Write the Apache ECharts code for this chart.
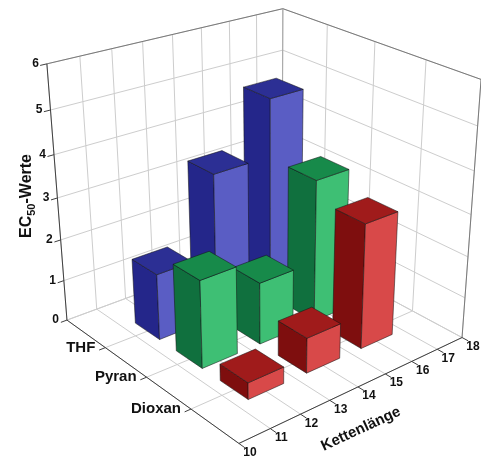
<!DOCTYPE html>
<html>
<head>
<meta charset="utf-8">
<script src="https://cdn.jsdelivr.net/npm/echarts@6/dist/echarts.min.js"></script>
<style>
  html, body { margin: 0; padding: 0; background: #ffffff; }
  #chart { width: 481px; height: 461px; }
</style>
</head>
<body>
<div id="chart"></div>
<script>
// ---- data ----
const chainTicks = [10, 11, 12, 13, 14, 15, 16, 17, 18];
const valueTicks = [0, 1, 2, 3, 4, 5, 6];
const solvents = ['THF', 'Pyran', 'Dioxan'];
const chainLengths = [12, 14, 16];
const thfValues = [1.6, 3.5, 4.85];
const pyranValues = [2.1, 1.5, 3.45];
const dioxanValues = [0.4, 0.85, 3.0];

// ---- axis ranges of the 3D box ----
const chainRange = [10, 18];
const valueRange = [0, 6];
const depthRange = [0, 4];           // solvents sit at depth 1, 2, 3

// ---- perspective camera ----
const DEG = Math.PI / 180;
const camera = { pitch: 26.54, yaw: 48.0, roll: 1.14, focal: 1340, cx: 324.5, cy: 243 };
// camera-space position of the far floor corner (chain 10, behind THF), in box-width units
const boxCorner = [-0.9145, -0.2937, 4.7877];
const boxSize = { chain: 1, depth: 0.991, value: 0.9595 };

const sp = Math.sin(camera.pitch * DEG), cp = Math.cos(camera.pitch * DEG);
const syw = Math.sin(camera.yaw * DEG), cyw = Math.cos(camera.yaw * DEG);
const dirChain = [syw, cyw * sp, cyw * cp];
const dirDepth = [cyw, -syw * sp, -syw * cp];
const dirValue = [0, cp, -sp];
const sr = Math.sin(camera.roll * DEG), cr = Math.cos(camera.roll * DEG);

function toCamera(chain, value, depth) {
  const a = (chain - chainRange[0]) / (chainRange[1] - chainRange[0]) * boxSize.chain;
  const b = (value - valueRange[0]) / (valueRange[1] - valueRange[0]) * boxSize.value;
  const c = (depth - depthRange[0]) / (depthRange[1] - depthRange[0]) * boxSize.depth;
  return [0, 1, 2].map(i => boxCorner[i] + a * dirChain[i] + b * dirValue[i] + c * dirDepth[i]);
}
function project(chain, value, depth) {
  const p = toCamera(chain, value, depth);
  const u = camera.focal * p[0] / p[2];
  const v = -camera.focal * p[1] / p[2];
  return [camera.cx + u * cr - v * sr, camera.cy + u * sr + v * cr];
}

// ---- frame: walls, grid, axes, labels ----
const FONT = '"Liberation Sans", Arial, sans-serif';
const gridColor = '#cdcdcd';
const edgeColor = '#7a7a7a';
const axisColor = '#404040';
const frame = [];

function seg(a, b, color, width) {
  frame.push({
    type: 'line', silent: true,
    shape: { x1: a[0], y1: a[1], x2: b[0], y2: b[1] },
    style: { stroke: color, lineWidth: width || 1 }
  });
}
function label(pt, dx, dy, text, align, size) {
  frame.push({
    type: 'text', silent: true, x: pt[0] + dx, y: pt[1] + dy,
    style: { text: text, align: align, verticalAlign: 'middle',
             font: 'bold ' + size + 'px ' + FONT, fill: '#111' }
  });
}

const c0 = chainRange[0], c1 = chainRange[1];
const v0 = valueRange[0], v1 = valueRange[1];
const d0 = depthRange[0], d1 = depthRange[1];
const depthLines = [0, 1, 2, 3, 4];

// back wall
valueTicks.forEach(v => seg(project(c0, v, d0), project(c1, v, d0), gridColor));
chainTicks.forEach(c => seg(project(c, v0, d0), project(c, v1, d0), gridColor));
// right wall
valueTicks.forEach(v => seg(project(c1, v, d0), project(c1, v, d1), gridColor));
depthLines.forEach(d => seg(project(c1, v0, d), project(c1, v1, d), gridColor));
// floor
depthLines.forEach(d => seg(project(c0, v0, d), project(c1, v0, d), gridColor));
chainTicks.forEach(c => seg(project(c, v0, d0), project(c, v0, d1), gridColor));

// box edges
seg(project(c0, v1, d0), project(c1, v1, d0), edgeColor);
seg(project(c1, v1, d0), project(c1, v1, d1), edgeColor);
seg(project(c1, v0, d1), project(c1, v1, d1), edgeColor);
seg(project(c1, v0, d0), project(c1, v1, d0), '#a8a8a8');

// axes
seg(project(c0, v0, d0), project(c0, v1, d0), axisColor);
seg(project(c0, v0, d0), project(c0, v0, d1), axisColor);
seg(project(c0, v0, d1), project(c1, v0, d1), axisColor);

valueTicks.forEach(v => {
  seg(project(c0, v, d0), project(c0 - 0.2, v, d0), axisColor);
  label(project(c0, v, d0), -8, 0, String(v), 'right', 12);
});
chainTicks.forEach(c => {
  seg(project(c, v0, d1), project(c, v0, d1 + 0.12), axisColor);
  label(project(c, v0, d1), 11, 9, String(c), 'center', 12);
});
solvents.forEach((name, i) => {
  seg(project(c0, v0, i + 1), project(c0 - 0.2, v0, i + 1), axisColor);
  label(project(c0, v0, i + 1), -10, 0, name, 'right', 15);
});

// axis titles
frame.push({
  type: 'text', silent: true, x: 27, y: 196, rotation: Math.PI / 2,
  style: {
    text: '{a|EC}{b|50}{a|-Werte}', align: 'center', verticalAlign: 'middle',
    rich: {
      a: { font: 'bold 16px ' + FONT, fill: '#111', lineHeight: 20, verticalAlign: 'middle' },
      b: { font: 'bold 11px ' + FONT, fill: '#111', lineHeight: 12, verticalAlign: 'bottom' }
    }
  }
});
frame.push({
  type: 'text', silent: true, x: 361, y: 429, rotation: 25 * DEG,
  style: { text: 'Kettenlänge', align: 'center', verticalAlign: 'middle',
           font: 'bold 15px ' + FONT, fill: '#111' }
});

// ---- bars ----
const seriesValues = [thfValues, pyranValues, dioxanValues];
const barColors = [
  { left: '#24268a', front: '#5a5dc4', top: '#2c2f94' },
  { left: '#10703e', front: '#3ebf74', top: '#178a4a' },
  { left: '#7e0e0e', front: '#d84949', top: '#a01b1b' }
];
const halfChain = 0.6, halfDepth = 0.3;

const barData = [];
solvents.forEach((name, si) => {
  chainLengths.forEach((c, ci) => {
    barData.push([c, si + 1, seriesValues[si][ci], si]);
  });
});
// paint far bars first
barData.sort((a, b) => toCamera(b[0], 0, b[1])[2] - toCamera(a[0], 0, a[1])[2]);

function face(points, fill) {
  return {
    type: 'polygon',
    shape: { points: points },
    style: { fill: fill, stroke: 'rgba(20,20,20,0.75)', lineWidth: 0.7, lineJoin: 'round' }
  };
}

const chart = echarts.init(document.getElementById('chart'));
chart.setOption({
  backgroundColor: '#ffffff',
  animation: false,
  graphic: { elements: frame },
  series: [{
    type: 'custom',
    coordinateSystem: 'none',
    silent: true,
    data: barData,
    renderItem: function (params, api) {
      const c = api.value(0), d = api.value(1), v = api.value(2), k = api.value(3);
      const ca = c - halfChain, cb = c + halfChain, da = d - halfDepth, db = d + halfDepth;
      const col = barColors[k];
      const left = [project(ca, 0, da), project(ca, 0, db), project(ca, v, db), project(ca, v, da)];
      const front = [project(ca, 0, db), project(cb, 0, db), project(cb, v, db), project(ca, v, db)];
      const top = [project(ca, v, da), project(ca, v, db), project(cb, v, db), project(cb, v, da)];
      return {
        type: 'group',
        children: [face(left, col.left), face(front, col.front), face(top, col.top)]
      };
    }
  }]
});
</script>
</body>
</html>
